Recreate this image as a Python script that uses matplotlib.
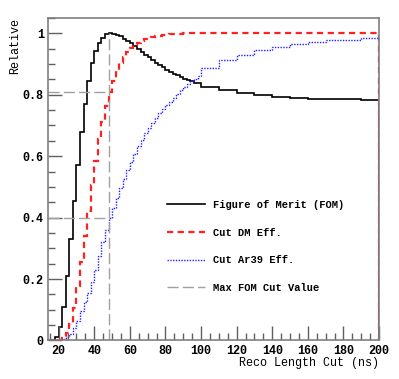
import numpy as np
import matplotlib
matplotlib.use("Agg")
import matplotlib.pyplot as plt
from matplotlib.ticker import MultipleLocator, FuncFormatter

plt.rcParams['font.family'] = ['Liberation Mono', 'DejaVu Sans Mono']
plt.rcParams['font.weight'] = 'bold'

# bin edges: 2 ns bins up to 100 ns, then 10 ns bins
edges = np.concatenate([np.arange(14, 100, 2), np.arange(100, 201, 10)])

fom = [0, 0, 0.01, 0.045, 0.11, 0.21, 0.33, 0.455, 0.57, 0.678, 0.771, 0.844,
       0.903, 0.944, 0.970, 0.986, 0.997, 1.0, 0.998, 0.995, 0.990, 0.983, 0.975,
       0.967, 0.958, 0.949, 0.940, 0.931, 0.922, 0.913, 0.905, 0.897, 0.889,
       0.882, 0.875, 0.869, 0.863, 0.858, 0.853, 0.848, 0.844, 0.840, 0.837,
       0.824, 0.816, 0.805, 0.799, 0.794, 0.790, 0.787, 0.786, 0.785, 0.784]

dm_eff = [0, 0, 0, 0.002, 0.009, 0.026, 0.055, 0.107, 0.178, 0.255, 0.339, 0.42,
          0.506, 0.585, 0.655, 0.712, 0.765, 0.81, 0.846, 0.877, 0.904, 0.924,
          0.939, 0.952, 0.962, 0.970, 0.976, 0.981, 0.985, 0.988, 0.991, 0.993,
          0.995, 0.996, 0.997, 0.998, 0.999, 0.999, 1.0, 1.0, 1.0, 1.0, 1.0,
          1.0, 1.0, 1.0, 1.0, 1.0, 1.0, 1.0, 1.0, 1.0, 1.0]

ar39_eff = [0, 0, 0, 0.001, 0.004, 0.01, 0.022, 0.04, 0.065, 0.095, 0.125, 0.155,
            0.19, 0.23, 0.275, 0.32, 0.36, 0.40, 0.432, 0.463, 0.495, 0.527,
            0.555, 0.582, 0.608, 0.632, 0.654, 0.675, 0.692, 0.709, 0.726, 0.741,
            0.754, 0.766, 0.778, 0.79, 0.802, 0.814, 0.825, 0.835, 0.845, 0.853,
            0.862,
            0.888, 0.913, 0.931, 0.945, 0.955, 0.966, 0.971, 0.977, 0.980, 0.985]

best_cut = 48
best_dm = 0.81
best_ar39 = 0.40

fig = plt.figure(figsize=(3.99, 3.79), dpi=100)
ax = fig.add_axes([0.1203, 0.1016, 0.8297, 0.8509])

ax.stairs(fom, edges, color='black', lw=1.2, label='Figure of Merit (FOM)')
ax.stairs(dm_eff, edges, color='#ff2020', lw=1.6, linestyle=(0, (2.8, 2)),
          label='Cut DM Eff.')
ax.stairs(ar39_eff, edges, color='#2020ff', lw=1.0, linestyle=(0, (1, 1)),
          label='Cut Ar39 Eff.')

gray = '#a0a0a0'
dash = (0, (8, 3))
ax.plot([best_cut, best_cut], [0, 1.0], color=gray, lw=1.0, linestyle=dash,
        label='Max FOM Cut Value')
ax.plot([14, best_cut], [best_dm, best_dm], color=gray, lw=1.0, linestyle=dash)
ax.plot([14, best_cut], [best_ar39, best_ar39], color=gray, lw=1.0, linestyle=dash)

ax.set_xlim(14, 200)
ax.set_ylim(0, 1.05)

ax.xaxis.set_major_locator(MultipleLocator(20))
ax.xaxis.set_minor_locator(MultipleLocator(5))
ax.yaxis.set_major_locator(MultipleLocator(0.2))
ax.yaxis.set_minor_locator(MultipleLocator(0.05))
ax.yaxis.set_major_formatter(FuncFormatter(lambda v, p: f"{v:g}"))

ax.tick_params(which='both', direction='in', top=False, right=False,
               labelsize=8.5, color='#606060')
ax.tick_params(which='major', length=10, width=1.0, pad=3)
ax.tick_params(which='minor', length=5, width=1.0)
for s in ax.spines.values():
    s.set_color('#808080')
    s.set_linewidth(1.2)

ax.set_xlabel('Reco Length Cut (ns)', loc='right', fontsize=8.5, labelpad=0)
ax.set_ylabel('Relative', loc='top', fontsize=8.5, labelpad=1)

ax.legend(loc='upper left', bbox_to_anchor=(0.3595, 0.436), frameon=False,
          fontsize=7.5, handlelength=3.65, handletextpad=0.75, labelspacing=1.7,
          borderpad=0, borderaxespad=0)

fig.savefig('out.png', dpi=100)
